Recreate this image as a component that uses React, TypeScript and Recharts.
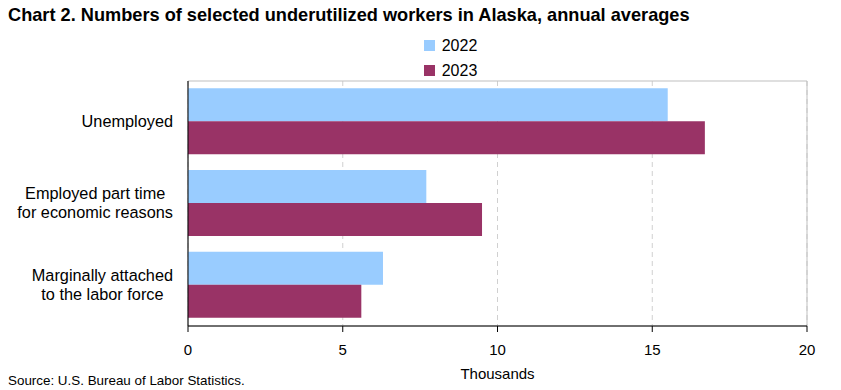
import React from "react";
import {
  BarChart,
  Bar,
  XAxis,
  YAxis,
  CartesianGrid,
  Legend,
  ReferenceArea,
} from "recharts";

const categories = [
  "Unemployed",
  "Employed part time\nfor economic reasons",
  "Marginally attached\nto the labor force",
];
const values2022 = [15.5, 7.7, 6.3];
const values2023 = [16.7, 9.5, 5.6];
const xTicks = [0, 5, 10, 15, 20];

const data = categories.map((name, i) => ({
  name,
  y2022: values2022[i],
  y2023: values2023[i],
}));

const FONT = "'Liberation Sans', Arial, sans-serif";
const TICK_SIZE = 16.3;

let ctx: CanvasRenderingContext2D | null = null;
function textWidth(s: string) {
  if (!ctx) ctx = document.createElement("canvas").getContext("2d");
  if (!ctx) return s.length * TICK_SIZE * 0.5;
  ctx.font = `${TICK_SIZE}px ${FONT}`;
  return ctx.measureText(s).width;
}

// multi-line labels: block right-aligned, lines centred within it
function CategoryTick(props: any) {
  const { x, y, payload } = props;
  const lines = String(payload.value).split("\n");
  const lh = 19;
  const start = -((lines.length - 1) * lh) / 2;
  const maxW = Math.max(...lines.map(textWidth));
  const cx = x - maxW / 2;
  return (
    <text
      x={cx}
      y={y}
      textAnchor="middle"
      fill="#000"
      fontSize={TICK_SIZE}
      fontFamily={FONT}
    >
      {lines.map((l, i) => (
        <tspan key={i} x={cx} dy={i === 0 ? start + 5 : lh}>
          {l}
        </tspan>
      ))}
    </text>
  );
}

function LegendContent(props: any) {
  const { payload } = props;
  return (
    <div style={{ fontFamily: FONT, fontSize: 16 }}>
      {payload.map((p: any) => (
        <div
          key={p.value}
          style={{ display: "flex", alignItems: "center", height: 25, justifyContent: "center" }}
        >
          <span
            style={{
              display: "inline-block",
              width: 11,
              height: 11,
              background: p.color,
              marginRight: 7,
            }}
          />
          <span>{p.value}</span>
        </div>
      ))}
    </div>
  );
}

export default function App() {
  return (
    <div
      style={{
        position: "absolute",
        left: 0,
        top: 0,
        width: 841,
        height: 390,
        background: "#fff",
        fontFamily: FONT,
      }}
    >
      <div
        style={{
          position: "absolute",
          left: 8,
          top: 5,
          fontSize: 18.2,
          fontWeight: "bold",
          whiteSpace: "nowrap",
        }}
      >
        Chart 2. Numbers of selected underutilized workers in Alaska, annual averages
      </div>
      <BarChart
        width={841}
        height={390}
        data={data}
        layout="vertical"
        margin={{ top: 81, right: 34, bottom: 34, left: 0 }}
        barCategoryGap="9%"
        barGap={0}
      >
        <CartesianGrid
          horizontal={false}
          strokeDasharray="5 4"
          stroke="#d0d0d0"
        />
        <ReferenceArea
          x1={0}
          x2={20}
          fill="none"
          fillOpacity={0}
          stroke="#bfbfbf"
          strokeWidth={1}
        />
        <XAxis
          type="number"
          domain={[0, 20]}
          ticks={xTicks}
          tick={{ fill: "#000", fontSize: 15, fontFamily: FONT }}
          axisLine={{ stroke: "#000" }}
          tickLine={{ stroke: "#000" }}
          tickSize={6}
          tickMargin={12}
          height={30}
        />
        <YAxis
          type="category"
          dataKey="name"
          width={188}
          tick={<CategoryTick />}
          tickLine={false}
          tickMargin={9}
          axisLine={{ stroke: "#000" }}
        />
        <Legend
          layout="vertical"
          verticalAlign="middle"
          align="center"
          content={<LegendContent />}
          wrapperStyle={{ top: 33, left: 30, width: 841 }}
        />
        <Bar dataKey="y2022" name="2022" fill="#99ccff" isAnimationActive={false} />
        <Bar dataKey="y2023" name="2023" fill="#993366" isAnimationActive={false} />
      </BarChart>
      <div
        style={{
          position: "absolute",
          left: 0,
          width: 995,
          top: 365,
          textAlign: "center",
          fontSize: 15,
        }}
      >
        Thousands
      </div>
      <div
        style={{
          position: "absolute",
          left: 8,
          top: 373,
          fontSize: 13.4,
        }}
      >
        Source: U.S. Bureau of Labor Statistics.
      </div>
    </div>
  );
}
